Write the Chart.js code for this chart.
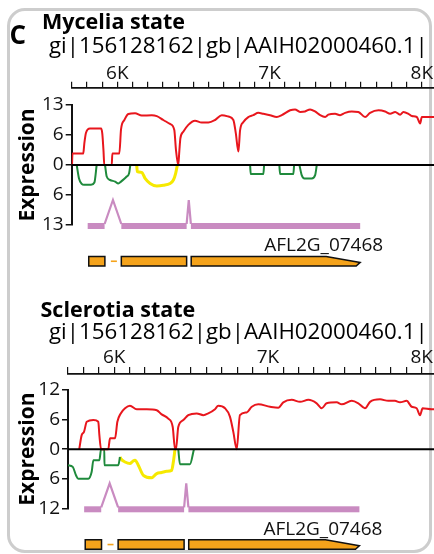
<!DOCTYPE html>
<html>
<head>
<meta charset="utf-8">
<title>Mycelia / Sclerotia expression</title>
<script src="https://cdn.jsdelivr.net/npm/chart.js@4.4.1/dist/chart.umd.min.js"></script>
<style>
  body { margin: 0; background: #fff; }
  #page { position: relative; width: 434px; height: 554px; overflow: hidden; font-family: "Open Sans", sans-serif; color: #000; }
  .frame { position: absolute; left: 7px; top: 8px; width: 425px; height: 545px; border: 3px solid #cdcdcd; border-radius: 18px; box-sizing: border-box; }
  .txt { position: absolute; white-space: nowrap; line-height: 1; }
  .letter { left: 9.5px; top: 21.2px; font-size: 26px; font-weight: 700; }
  .state { font-size: 21.5px; font-weight: 700; }
  .contig { font-size: 22.3px; }
  canvas { position: absolute; left: 0; }
</style>
</head>
<body>
<div id="page">
  <div class="frame"></div>
  <canvas id="mycelia" width="434" height="280" style="top:0"></canvas>
  <canvas id="sclerotia" width="434" height="274" style="top:280px"></canvas>
  <div class="txt letter">C</div>
  <div class="txt state" style="left:42px; top:9.9px">Mycelia state</div>
  <div class="txt contig" style="left:49px; top:33.5px">gi|156128162|gb|AAIH02000460.1|</div>
  <div class="txt state" style="left:40.5px; top:297.6px">Sclerotia state</div>
  <div class="txt contig" style="left:49px; top:320.2px">gi|156128162|gb|AAIH02000460.1|</div>
</div>

<script>
// ruler (bp)
const rulerStart = 5700;
const rulerEnd = 8080;
const rulerStep = 100;
const rulerLabelBp = [6000, 7000, 8000];
const rulerLabels = ["6K", "7K", "8K"];

// gene model + junction track, shared by both states
const geneName = "AFL2G_07468";
const geneExons = [[5812, 5918], [6026, 6455], [6485, 7595]];
const readSpan = [5805, 7595];
const spliceJunctions = [[5916, 6026], [6455, 6483]];

// Mycelia state
const myceliaYMax = 13;
const myceliaYLabels = ["13", "6", "0", "6", "13"];
const myceliaSenseBp = [5702, 5705, 5776, 5783, 5794, 5820, 5893, 5901, 5909, 5914, 5963, 5967, 6013, 6024, 6046, 6072, 6116, 6160, 6226, 6259, 6302, 6346, 6374, 6385, 6400, 6407, 6414, 6433, 6466, 6510, 6554, 6598, 6642, 6686, 6729, 6762, 6778, 6795, 6806, 6828, 6861, 6893, 6926, 6959, 7003, 7047, 7080, 7135, 7167, 7200, 7233, 7266, 7299, 7332, 7365, 7386, 7430, 7463, 7496, 7540, 7583, 7627, 7660, 7715, 7759, 7792, 7825, 7857, 7879, 7912, 7934, 7967, 7989, 8000, 8081];
const myceliaSenseExpr = [0, 2.5, 2.5, 4.7, 7.0, 7.9, 7.9, 6.8, 3.0, 0, 0, 2.5, 2.5, 7.7, 9.75, 11.05, 11.2, 10.7, 10.8, 10.6, 9.75, 8.9, 7.6, 3.25, 0, 3.0, 5.8, 7.2, 8.7, 9.6, 9.2, 9.2, 9.75, 10.8, 10.5, 9.75, 6.9, 2.9, 7.5, 9.3, 10.4, 10.8, 11.3, 11.1, 10.8, 10.4, 10.8, 11.85, 12.05, 11.5, 11.6, 12.05, 11.6, 10.8, 10.4, 10.9, 11.1, 10.8, 11.3, 11.6, 11.5, 10.4, 11.3, 11.85, 11.6, 11.1, 11.5, 10.9, 11.5, 11.1, 10.6, 10.4, 9.0, 10.4, 10.4];
const myceliaAntiBp = [5733, 5748, 5766, 5781, 5827, 5849, 5864, 5890, 5919, 5930, 5952, 5985, 6006, 6024, 6046, 6061, 6077, 6085, 6500, 6872, 6876, 6959, 6964, 7010, 7064, 7069, 7156, 7161, 7180, 7196, 7211, 7229, 7277, 7299, 7310];
const myceliaAntiExpr = [0, -2.9, -4.1, -4.3, -4.3, -3.8, 0, null, 0, -2.5, -3.25, -3.6, -4.0, -3.6, -3.0, -2.5, -1.8, 0, null, 0, -1.95, -1.95, 0, null, 0, -1.95, -1.95, 0, null, 0, -2.2, -2.9, -2.9, -2.2, 0];
const myceliaOverlapBp = [6127, 6131, 6160, 6182, 6215, 6259, 6302, 6346, 6368, 6383, 6394];
const myceliaOverlapExpr = [0, -1.45, -1.6, -2.9, -4.0, -4.55, -4.4, -4.0, -3.25, -1.8, 0];

// Sclerotia state
const sclerotiaYMax = 12;
const sclerotiaYLabels = ["12", "6", "0", "6", "12"];
const sclerotiaSenseBp = [5773, 5789, 5804, 5822, 5865, 5897, 5904, 5915, 5962, 5973, 6006, 6021, 6043, 6071, 6103, 6147, 6212, 6277, 6309, 6352, 6381, 6396, 6402, 6417, 6450, 6482, 6537, 6580, 6612, 6656, 6677, 6721, 6753, 6775, 6797, 6818, 6862, 6895, 6937, 7014, 7068, 7100, 7155, 7209, 7263, 7317, 7350, 7382, 7447, 7480, 7545, 7588, 7631, 7664, 7729, 7783, 7826, 7859, 7902, 7935, 7967, 7989, 8006, 8065, 8080];
const sclerotiaSenseExpr = [0, 2.85, 3.5, 5.55, 5.9, 5.55, 2.85, 0, 0, 2.2, 2.2, 5.55, 7.25, 8.3, 8.8, 8.1, 8.1, 7.9, 7.05, 6.2, 4.5, 0, 0, 4.5, 5.9, 6.9, 7.25, 6.9, 7.25, 8.1, 8.8, 8.3, 6.6, 3.5, 0, 6.9, 7.45, 8.6, 9.1, 8.6, 8.4, 9.5, 10.0, 9.6, 10.0, 9.3, 8.3, 9.3, 9.5, 9.1, 9.8, 9.3, 8.3, 9.6, 10.1, 9.8, 9.8, 9.5, 9.8, 8.6, 8.3, 6.9, 8.3, 8.1, 8.1];
const sclerotiaAntiBp = [5700, 5731, 5752, 5767, 5832, 5854, 5865, 5904, 5915, 5936, 5937, 6027, 6038, 6100, 6417, 6428, 6493, 6519];
const sclerotiaAntiExpr = [-3.25, -3.6, -5.3, -6.0, -6.0, -4.6, -2.25, -2.25, 0, 0, -3.25, -3.25, -1.6, null, 0, -3.05, -3.05, 0];
const sclerotiaOverlapBp = [6038, 6045, 6071, 6103, 6120, 6136, 6157, 6190, 6244, 6277, 6309, 6342, 6374, 6385, 6396];
const sclerotiaOverlapExpr = [-1.6, -2.0, -2.6, -2.9, -2.5, -2.25, -3.25, -5.3, -5.8, -4.95, -4.75, -4.5, -4.3, -2.6, 0];

const FONT = "'Open Sans', sans-serif";
const RED = "#e8161d";
const GREEN = "#1f8a3c";
const YELLOW = "#f6e900";
const PINK = "#c98bc1";
const ORANGE = "#f5a31b";

function toPoints(bp, expr) {
  return bp.map((b, i) => ({ x: b, y: expr[i] }));
}

// zero line on top of the curves, then junction track + gene model below the plot
const trackPlugin = {
  id: "trackPlugin",
  afterDatasetsDraw(chart) {
    const { ctx, chartArea, scales } = chart;
    const y0 = scales.y.getPixelForValue(0);
    ctx.save();
    ctx.strokeStyle = "#000";
    ctx.lineWidth = 2;
    ctx.beginPath();
    ctx.moveTo(chartArea.left, y0);
    ctx.lineTo(chartArea.right, y0);
    ctx.stroke();
    ctx.restore();
  },
  afterDraw(chart) {
    const { ctx, chartArea, scales } = chart;
    const px = (v) => scales.x.getPixelForValue(v);

    // junction track: thick coverage bar broken by spliced peaks
    const base = chartArea.bottom + 1;
    const edges = [readSpan[0], ...spliceJunctions.flat(), readSpan[1]];
    ctx.save();
    ctx.fillStyle = PINK;
    for (let i = 0; i < edges.length; i += 2) {
      ctx.fillRect(px(edges[i]), base - 3, px(edges[i + 1]) - px(edges[i]), 6);
    }
    ctx.strokeStyle = PINK;
    ctx.lineWidth = 2.2;
    spliceJunctions.forEach(([s, e]) => {
      ctx.beginPath();
      ctx.moveTo(px(s), base - 2);
      ctx.lineTo(px((s + e) / 2), base - 26);
      ctx.lineTo(px(e), base - 2);
      ctx.stroke();
    });

    // gene model
    const top = chartArea.bottom + 31.5;
    const h = 9.5;
    ctx.strokeStyle = ORANGE;
    ctx.lineWidth = 1.6;
    ctx.setLineDash([6, 6]);
    ctx.lineDashOffset = 6;
    for (let i = 0; i < geneExons.length - 1; i++) {
      ctx.beginPath();
      ctx.moveTo(px(geneExons[i][1]), top + h / 2);
      ctx.lineTo(px(geneExons[i + 1][0]), top + h / 2);
      ctx.stroke();
    }
    ctx.setLineDash([]);
    ctx.fillStyle = ORANGE;
    ctx.strokeStyle = "#111";
    ctx.lineWidth = 1.5;
    geneExons.forEach(([s, e], i) => {
      const x0 = px(s), x1 = px(e);
      ctx.beginPath();
      if (i === geneExons.length - 1) {
        ctx.moveTo(x0, top);
        ctx.lineTo(x1 - 34, top);
        ctx.lineTo(x1, top + h * 0.62);
        ctx.lineTo(x1 - 4, top + h);
        ctx.lineTo(x0, top + h);
        ctx.closePath();
      } else {
        ctx.rect(x0, top, x1 - x0, h);
      }
      ctx.fill();
      ctx.stroke();
    });

    const end = geneExons[geneExons.length - 1][1];
    ctx.fillStyle = "#111";
    ctx.font = "19px " + FONT;
    ctx.textAlign = "center";
    ctx.textBaseline = "alphabetic";
    ctx.fillText(geneName, px(end) - 36.5, top - 5.3);
    ctx.restore();
  },
};

function buildPanel(canvasId, series, yMax, yLabels, box) {
  const rulerTicks = [];
  for (let v = rulerStart; v <= rulerEnd; v += rulerStep) rulerTicks.push(v);

  return new Chart(document.getElementById(canvasId), {
    type: "line",
    data: {
      datasets: [
        { label: "sense", data: toPoints(series.senseBp, series.senseExpr), borderColor: RED, borderWidth: 2 },
        { label: "antisense", data: toPoints(series.antiBp, series.antiExpr), borderColor: GREEN, borderWidth: 2 },
        { label: "antisense overlap", data: toPoints(series.overlapBp, series.overlapExpr), borderColor: YELLOW, borderWidth: 3 },
      ],
    },
    options: {
      responsive: false,
      animation: false,
      events: [],
      layout: { padding: { top: 0, left: 0, right: 0, bottom: box.bottomPad } },
      elements: { point: { radius: 0 }, line: { cubicInterpolationMode: "monotone", fill: false } },
      spanGaps: false,
      plugins: { legend: { display: false }, tooltip: { enabled: false } },
      scales: {
        x: {
          type: "linear",
          position: "top",
          weight: 2,
          min: rulerStart,
          max: rulerEnd,
          afterBuildTicks: (s) => { s.ticks = rulerTicks.map((v) => ({ value: v })); },
          afterFit: (s) => { s.height = box.rulerHeight; },
          grid: { drawOnChartArea: false, drawTicks: true, tickLength: box.tickLength, color: "#111", lineWidth: 1.2 },
          border: { display: true, color: "#111", width: 1.8 },
          ticks: {
            autoSkip: false,
            minRotation: 0,
            maxRotation: 0,
            padding: box.tickPadding,
            color: "#111",
            font: { family: FONT, size: 19 },
            callback: (v) => {
              const i = rulerLabelBp.indexOf(v);
              return i >= 0 ? rulerLabels[i] : "";
            },
          },
        },
        xGap: {
          type: "linear",
          position: "top",
          weight: 1,
          min: rulerStart,
          max: rulerEnd,
          afterFit: (s) => { s.height = box.gapHeight; },
          grid: { display: false },
          border: { display: false },
          ticks: { display: false },
        },
        y: {
          type: "linear",
          position: "left",
          min: -yMax,
          max: yMax,
          afterBuildTicks: (s) => {
            const n = yLabels.length - 1;
            s.ticks = yLabels.map((_, i) => ({ value: -yMax + (2 * yMax * i) / n }));
          },
          afterFit: (s) => { s.width = box.axisWidth; },
          grid: { drawOnChartArea: false, drawTicks: true, tickLength: 6, color: "#111", lineWidth: 1.5 },
          border: { color: "#111", width: 2 },
          ticks: {
            padding: 2,
            color: "#111",
            font: { family: FONT, size: 19 },
            callback: (v, i) => yLabels[yLabels.length - 1 - i],
          },
          title: {
            display: true,
            text: "Expression",
            color: "#000",
            font: { family: FONT, size: 21, weight: "bold" },
            padding: { top: 15.4, bottom: 0 },
          },
        },
      },
    },
    plugins: [trackPlugin],
  });
}

buildPanel("mycelia", {
  senseBp: myceliaSenseBp, senseExpr: myceliaSenseExpr,
  antiBp: myceliaAntiBp, antiExpr: myceliaAntiExpr,
  overlapBp: myceliaOverlapBp, overlapExpr: myceliaOverlapExpr,
}, myceliaYMax, myceliaYLabels,
{ axisWidth: 71.7, rulerHeight: 87.7, gapHeight: 17.3, bottomPad: 55, tickLength: 6, tickPadding: -3 });

buildPanel("sclerotia", {
  senseBp: sclerotiaSenseBp, senseExpr: sclerotiaSenseExpr,
  antiBp: sclerotiaAntiBp, antiExpr: sclerotiaAntiExpr,
  overlapBp: sclerotiaOverlapBp, overlapExpr: sclerotiaOverlapExpr,
}, sclerotiaYMax, sclerotiaYLabels,
{ axisWidth: 68, rulerHeight: 94, gapHeight: 16, bottomPad: 45.7, tickLength: 7, tickPadding: -2 });
</script>
</body>
</html>
